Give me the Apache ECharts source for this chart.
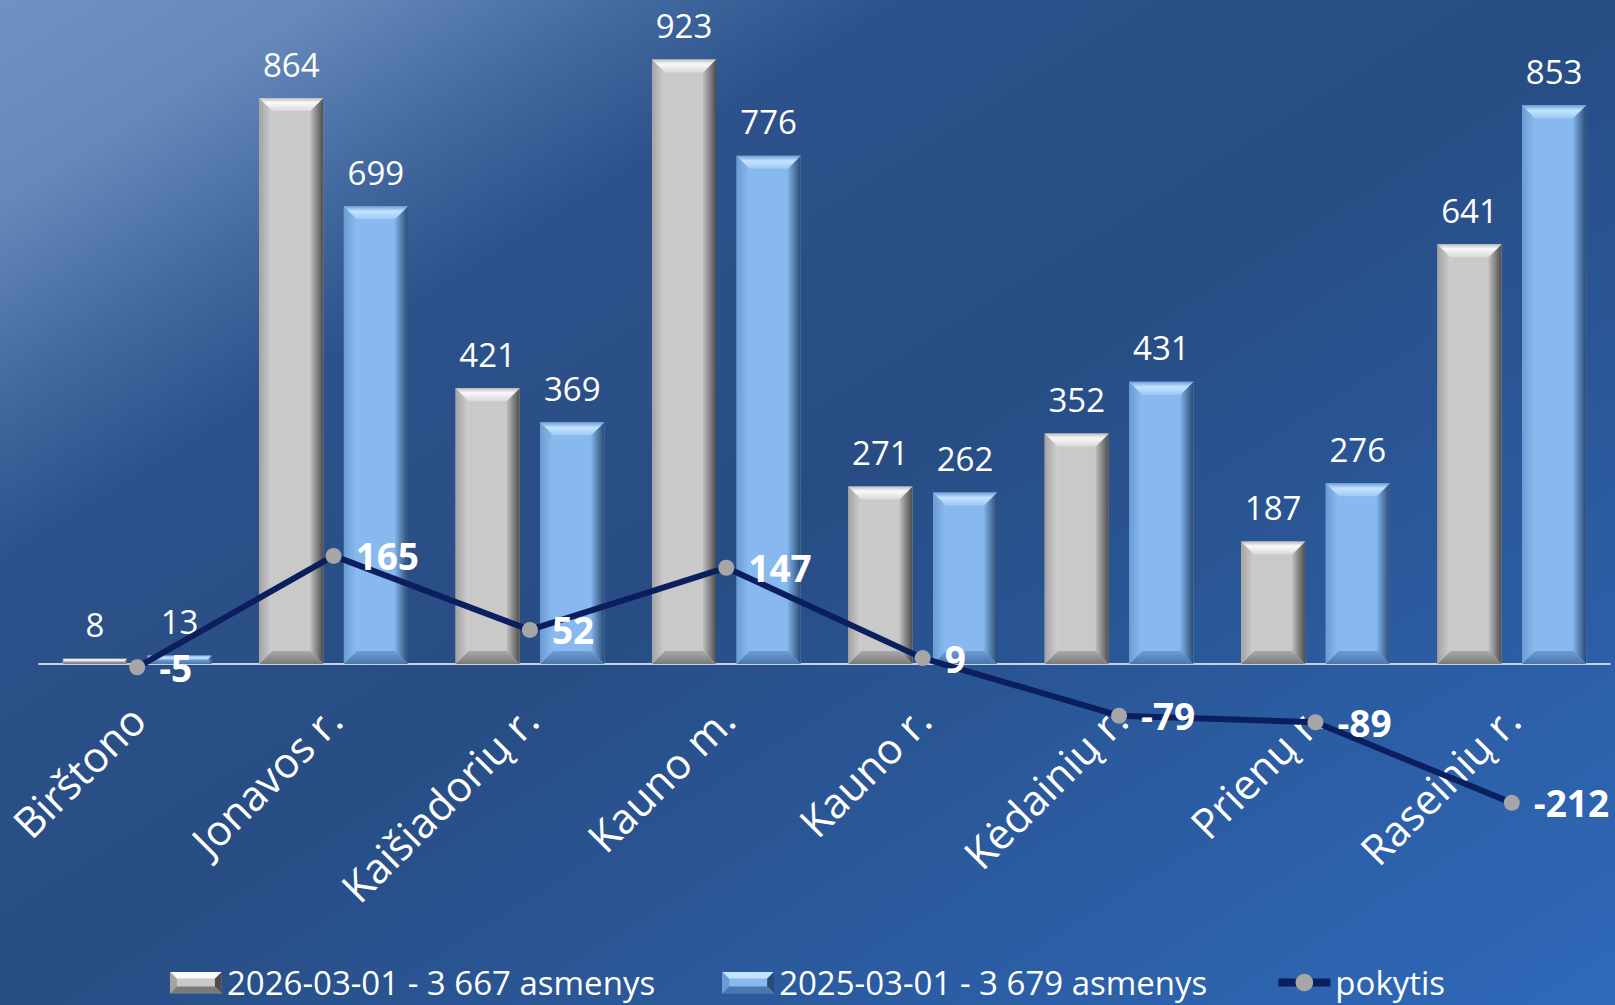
<!DOCTYPE html>
<html>
<head>
<meta charset="utf-8">
<title>Asmenys pagal savivaldybes</title>
<script src="https://cdn.jsdelivr.net/npm/echarts@6/dist/echarts.min.js"></script>
<style>
  html, body { margin: 0; padding: 0; }
  #chart {
    width: 1615px;
    height: 1005px;
    /* fonas: šviesus kampas viršuje kairėje, tamsus vidurys, ryškiai mėlyna apačioje dešinėje */
    background: linear-gradient(to bottom right, #6e92c3 0%, #6689bb 10%, #4268a0 20%, #2d528b 28%, #284d84 50%, #2b5ba0 75%, #2f69ba 100%);
  }
</style>
</head>
<body>
<div id="chart"></div>
<script>
// ---- duomenys ----
var categories = ['Birštono', 'Jonavos r.', 'Kaišiadorių r.', 'Kauno m.', 'Kauno r.', 'Kėdainių r.', 'Prienų r.', 'Raseinių r.'];
var values2026 = [8, 864, 421, 923, 271, 352, 187, 641];
var values2025 = [13, 699, 369, 776, 262, 431, 276, 853];
var change = [-5, 165, 52, 147, 9, -79, -89, -212];
var seriesNames = ['2026-03-01 - 3 667 asmenys', '2025-03-01 - 3 679 asmenys', 'pokytis'];

// stulpelio plotis ir poslinkis kategorijos dalimis
var BAR_W = 0.326;
var SHIFT = 0.2155;
var BEVEL = 13;

var greyPal = {
  face: '#c9c9c9',
  top: [['0', '#bdbdbd'], ['0.35', '#fafafa'], ['1', '#d9d9d9']],
  right: [['0', '#bfbfbf'], ['1', '#4d4d4d']],
  bottom: [['0', '#a9a9a9'], ['1', '#7a7a7a']],
  left: [['0', '#a3a3a3'], ['1', '#cfcfcf']]
};
var bluePal = {
  face: '#87b9ef',
  top: [['0', '#6e9fd8'], ['0.4', '#c4e3ff'], ['1', '#9dcaf6']],
  right: [['0', '#80b2e8'], ['1', '#2b4b73']],
  bottom: [['0', '#6d9bd2'], ['1', '#4a77ad']],
  left: [['0', '#6a9bd3'], ['1', '#8bbcf0']]
};

function grad(x2, y2, stops) {
  return new echarts.graphic.LinearGradient(0, 0, x2, y2, stops.map(function (s) {
    return { offset: parseFloat(s[0]), color: s[1] };
  }));
}

// stulpelis su nuožulniais kraštais
function bevelBar(shift, pal) {
  return function (params, api) {
    var idx = api.value(0);
    var val = api.value(1);
    var base = api.coord([idx, 0]);
    var top = api.coord([idx, val]);
    var band = api.size([1, 0])[0];
    var w = band * BAR_W;
    var cx = base[0] + band * shift;
    var x0 = cx - w / 2, x1 = cx + w / 2;
    var y0 = top[1], y1 = base[1];
    var b = Math.min(BEVEL, (y1 - y0) / 2, w / 2);
    return {
      type: 'group',
      children: [
        { type: 'rect', shape: { x: x0, y: y0, width: w, height: y1 - y0 }, style: { fill: pal.face } },
        { type: 'polygon', shape: { points: [[x0, y0], [x0 + b, y0 + b], [x0 + b, y1 - b], [x0, y1]] }, style: { fill: grad(1, 0, pal.left) } },
        { type: 'polygon', shape: { points: [[x1, y0], [x1, y1], [x1 - b, y1 - b], [x1 - b, y0 + b]] }, style: { fill: grad(1, 0, pal.right) } },
        { type: 'polygon', shape: { points: [[x0, y0], [x1, y0], [x1 - b, y0 + b], [x0 + b, y0 + b]] }, style: { fill: grad(0, 1, pal.top) } },
        { type: 'polygon', shape: { points: [[x0, y1], [x1, y1], [x1 - b, y1 - b], [x0 + b, y1 - b]] }, style: { fill: grad(0, 1, pal.bottom) } },
        {
          type: 'text', x: cx, y: y0 - 34,
          style: { text: String(val), fill: '#ffffff', fontSize: 33, fontFamily: 'Open Sans', align: 'center', verticalAlign: 'middle' }
        }
      ]
    };
  };
}

function iconSvg(pal) {
  var s = "<svg xmlns='http://www.w3.org/2000/svg' width='52' height='22'>" +
    "<rect width='52' height='22' fill='" + pal.face + "'/>" +
    "<polygon points='0,0 7,7 7,15 0,22' fill='" + pal.left[0][1] + "'/>" +
    "<polygon points='52,0 52,22 45,15 45,7' fill='" + pal.right[1][1] + "'/>" +
    "<polygon points='0,0 52,0 45,7 7,7' fill='" + pal.top[1][1] + "'/>" +
    "<polygon points='0,22 52,22 45,15 7,15' fill='" + pal.bottom[1][1] + "'/>" +
    "</svg>";
  return 'image://data:image/svg+xml;charset=utf-8,' + encodeURIComponent(s);
}

var chart = echarts.init(document.getElementById('chart'), null, { renderer: 'svg' });

// tinklelio apačia = nulio linija, neigiami pokyčiai piešiami žemiau jos
chart.setOption({
  backgroundColor: 'transparent',
  animation: false,
  textStyle: { fontFamily: 'Open Sans' },
  grid: { left: 39, right: 5, top: 9, bottom: 341, containLabel: false, outerBoundsMode: 'none' },
  legend: {
    left: 'center',
    top: 961,
    itemWidth: 52,
    itemHeight: 22,
    itemGap: 67,
    textStyle: { color: '#ffffff', fontSize: 33, fontFamily: 'Open Sans' },
    data: [
      { name: seriesNames[0], icon: iconSvg(greyPal) },
      { name: seriesNames[1], icon: iconSvg(bluePal) },
      { name: seriesNames[2], lineStyle: { width: 8, color: '#0b1f5e' } }
    ]
  },
  xAxis: {
    type: 'category',
    data: categories,
    axisLine: { lineStyle: { color: '#c9d2df', width: 2 } },
    axisTick: { show: false },
    axisLabel: {
      rotate: 45,
      margin: 48,
      color: '#ffffff',
      fontSize: 42,
      fontFamily: 'Open Sans',
      interval: 0
    },
    splitLine: { show: false }
  },
  yAxis: {
    type: 'value',
    min: 0,
    max: 1000,
    show: false,
    splitLine: { show: false }
  },
  series: [
    {
      name: seriesNames[0],
      type: 'custom',
      z: 2,
      clip: false,
      encode: { x: 0, y: 1 },
      data: values2026.map(function (v, i) { return [i, v]; }),
      renderItem: bevelBar(-SHIFT, greyPal)
    },
    {
      name: seriesNames[1],
      type: 'custom',
      z: 2,
      clip: false,
      encode: { x: 0, y: 1 },
      data: values2025.map(function (v, i) { return [i, v]; }),
      renderItem: bevelBar(SHIFT, bluePal)
    },
    {
      name: seriesNames[2],
      type: 'line',
      z: 5,
      clip: false,
      data: change,
      symbol: 'circle',
      symbolSize: 16,
      itemStyle: { color: '#a6a6a6' },
      lineStyle: { color: '#0b1f5e', width: 6 },
      label: {
        show: true,
        position: 'right',
        distance: 14,
        color: '#ffffff',
        fontSize: 37,
        fontWeight: 'bold',
        fontFamily: 'Open Sans'
      }
    }
  ]
});
</script>
</body>
</html>
